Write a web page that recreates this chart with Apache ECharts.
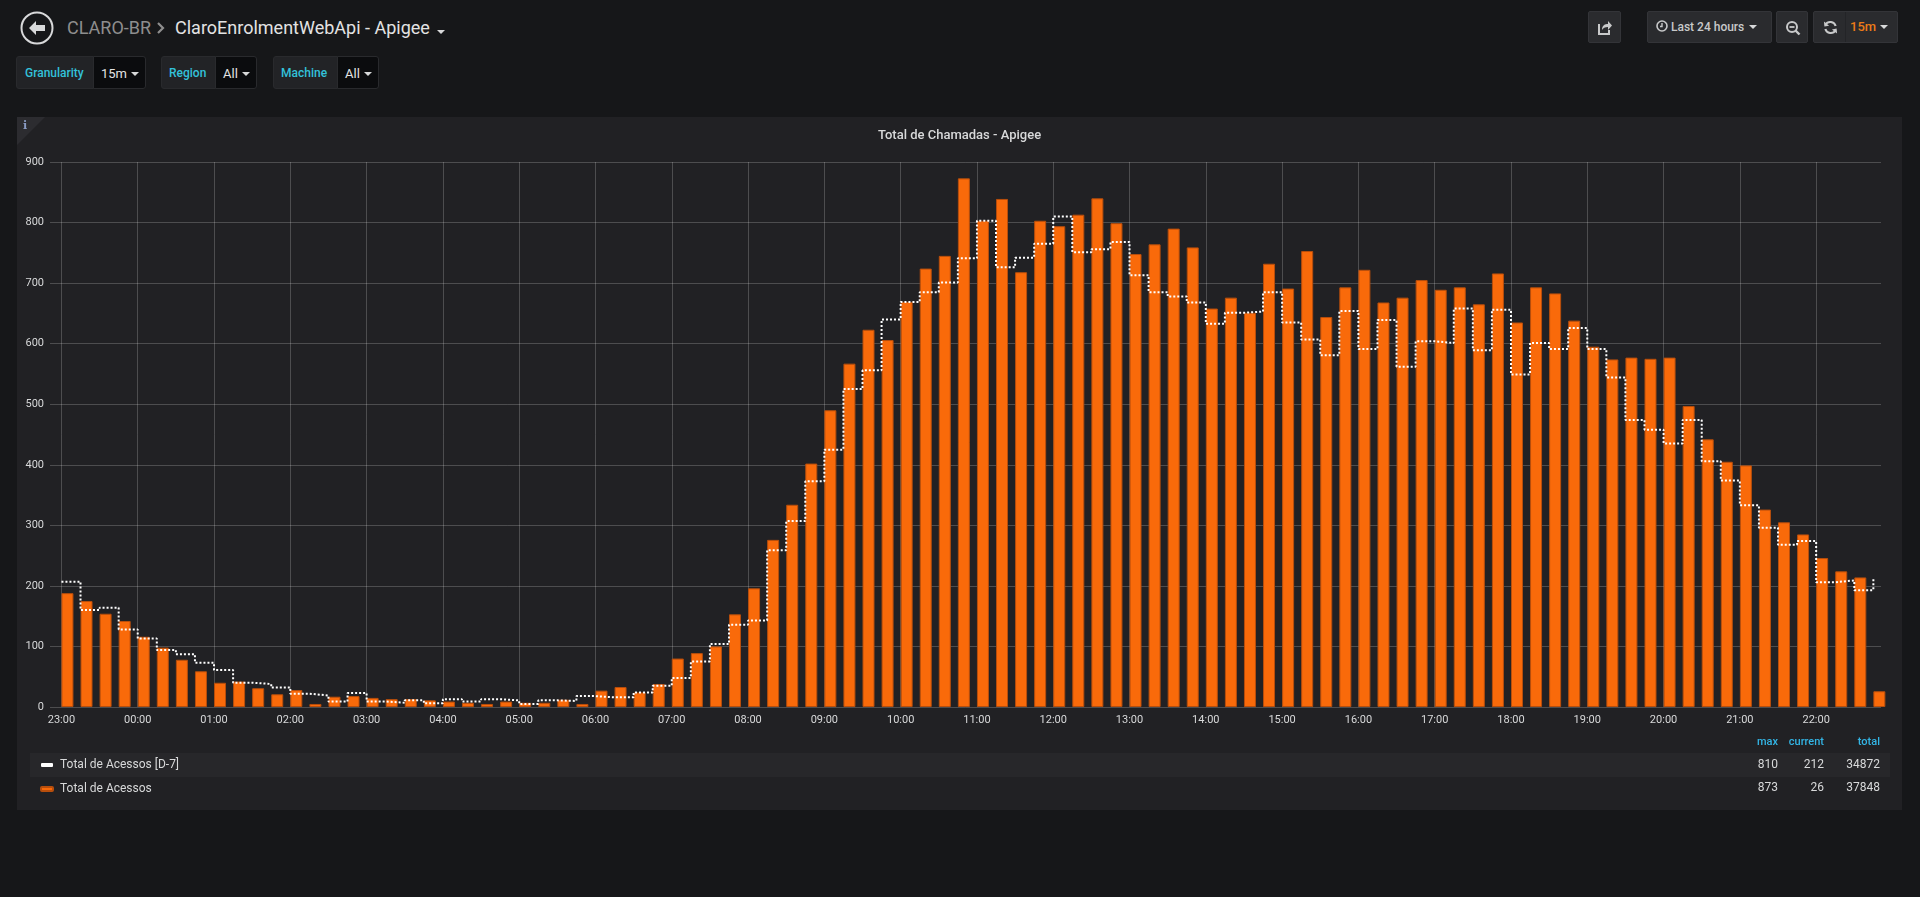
<!DOCTYPE html>
<html>
<head>
<meta charset="utf-8">
<title>ClaroEnrolmentWebApi - Apigee</title>
<script src="https://cdn.jsdelivr.net/npm/echarts@6/dist/echarts.min.js"></script>
<style>
  html, body { margin: 0; padding: 0; background: #161719; width: 1920px; height: 897px; overflow: hidden; font-family: Roboto, "Noto Sans", sans-serif; }
  .abs { position: absolute; }
  .crumb { top: 16px; font-size: 18px; line-height: 24px; white-space: nowrap; }
  .var-label { top: 56px; height: 33px; line-height: 33px; background: #222326; border: 1px solid #292a2d; box-sizing: border-box; color: #33c1da; font-size: 12px; font-weight: 500; padding-left: 8px; border-radius: 3px 0 0 3px; }
  .var-value { top: 56px; height: 33px; line-height: 33px; background: #0b0c0e; border: 1px solid #292a2d; box-sizing: border-box; color: #e3e3e3; font-size: 13px; padding-left: 7px; border-radius: 0 3px 3px 0; }
  .caret { display: inline-block; width: 0; height: 0; border-left: 4px solid transparent; border-right: 4px solid transparent; border-top: 4px solid #d8d9da; vertical-align: middle; margin-left: 4px; margin-top: -2px; }
  .btn { top: 11px; height: 32px; background: #2a2b2e; border: 1px solid #333438; box-sizing: border-box; border-radius: 2px; color: #c8c9ca; font-size: 12px; font-weight: 500; line-height: 30px; }
  #panel { left: 17px; top: 117px; width: 1885px; height: 693px; background: #212124; }
  #chart { position: absolute; left: 0; top: 0; width: 1885px; height: 693px; }
  #corner { position: absolute; left: 0; top: 0; width: 0; height: 0; border-top: 28px solid #2c2c30; border-right: 28px solid transparent; }
  #corner-i { position: absolute; left: 6px; top: 2px; color: #8a9cc4; font: bold 11px "DejaVu Serif", serif; }
</style>
</head>
<body>

<!-- top navigation -->
<svg class="abs" style="left:20px;top:11px" width="34" height="34" viewBox="0 0 34 34">
  <circle cx="17" cy="17" r="15.5" fill="none" stroke="#d8d9da" stroke-width="2"/>
  <path d="M9 17 L16 10 L16 14 L25 14 L25 20 L16 20 L16 24 Z" fill="#d8d9da"/>
</svg>
<div class="abs crumb" style="left:67px;color:#8e8e8e">CLARO-BR</div>
<svg class="abs" style="left:156px;top:22px" width="10" height="12" viewBox="0 0 10 12">
  <path d="M2 1 L7 6 L2 11" fill="none" stroke="#8e8e8e" stroke-width="2.2"/>
</svg>
<div class="abs crumb" style="left:175px;color:#e3e3e3">ClaroEnrolmentWebApi - Apigee</div>
<div class="abs" style="left:437px;top:30px;width:0;height:0;border-left:4px solid transparent;border-right:4px solid transparent;border-top:4px solid #d8d9da"></div>

<!-- template variables -->
<div class="abs var-label" style="left:16px;width:78px">Granularity</div>
<div class="abs var-value" style="left:93px;width:53px">15m<span class="caret"></span></div>
<div class="abs var-label" style="left:161px;width:55px;padding-left:7px">Region</div>
<div class="abs var-value" style="left:215px;width:42px">All<span class="caret"></span></div>
<div class="abs var-label" style="left:273px;width:65px;padding-left:7px">Machine</div>
<div class="abs var-value" style="left:337px;width:42px">All<span class="caret"></span></div>

<!-- right-hand buttons -->
<div class="abs btn" style="left:1588px;width:33px">
  <svg style="position:absolute;left:8px;top:7px" width="16" height="16" viewBox="0 0 16 16">
    <path d="M2 5 L2 15 L12 15 L12 11" fill="none" stroke="#c8c9ca" stroke-width="2"/>
    <path d="M5 11 C5 6 8 5 11 5 L11 2 L15 6.5 L11 11 L11 8 C8 8 6 9 5 11 Z" fill="#c8c9ca"/>
  </svg>
</div>
<div class="abs btn" style="left:1647px;width:125px;padding-left:8px">
  <svg style="vertical-align:middle;margin-top:-3px" width="12" height="12" viewBox="0 0 12 12">
    <circle cx="6" cy="6" r="5" fill="none" stroke="#c8c9ca" stroke-width="1.6"/>
    <path d="M6 3 L6 6.5 L4 6.5" fill="none" stroke="#c8c9ca" stroke-width="1.4"/>
  </svg>
  Last 24 hours<span class="caret" style="margin-left:5px"></span>
</div>
<div class="abs btn" style="left:1776px;width:32px">
  <svg style="position:absolute;left:8px;top:8px" width="16" height="16" viewBox="0 0 16 16">
    <circle cx="7" cy="7" r="5" fill="none" stroke="#c8c9ca" stroke-width="2"/>
    <path d="M4.5 7 L9.5 7" stroke="#c8c9ca" stroke-width="1.8"/>
    <path d="M10.5 10.5 L14.5 14.5" stroke="#c8c9ca" stroke-width="2.4"/>
  </svg>
</div>
<div class="abs btn" style="left:1813px;width:85px">
  <svg style="position:absolute;left:9px;top:8px" width="15" height="15" viewBox="0 0 16 16">
    <path d="M13.5 6.5 A6 6 0 0 0 2.6 5" fill="none" stroke="#c8c9ca" stroke-width="2.2"/>
    <path d="M1 1.5 L1.5 7 L6.5 6 Z" fill="#c8c9ca"/>
    <path d="M2.5 9.5 A6 6 0 0 0 13.4 11" fill="none" stroke="#c8c9ca" stroke-width="2.2"/>
    <path d="M15 14.5 L14.5 9 L9.5 10 Z" fill="#c8c9ca"/>
  </svg>
  <div style="position:absolute;left:31px;top:0;width:1px;height:30px;background:#232427"></div>
  <span style="position:absolute;left:36px;color:#eb7b18;font-size:13px;font-weight:500">15m<span class="caret"></span></span>
</div>

<!-- graph panel -->
<div id="panel" class="abs">
  <div id="chart"></div>
  <div id="corner"></div>
  <div id="corner-i">i</div>
</div>

<script>
// 15 minute buckets, first bucket at 23:00
const slotMinutes = 15;
const hourLabels = ['23:00','00:00','01:00','02:00','03:00','04:00','05:00','06:00','07:00','08:00','09:00','10:00',
  '11:00','12:00','13:00','14:00','15:00','16:00','17:00','18:00','19:00','20:00','21:00','22:00'];
const hourTicks = hourLabels.map((_, k) => k * 60);

// Total de Acessos (bars)
const acessos = [188,175,154,142,116,98,78,59,40,42,31,21,28,5,17,18,15,13,13,11,9,7,5,9,
  7,7,12,5,27,33,24,38,80,89,100,153,196,276,334,402,490,567,623,606,669,724,745,873,
  803,839,718,803,794,813,840,799,748,764,790,759,658,676,651,732,691,753,644,693,722,668,676,705,
  689,693,665,716,635,693,683,638,595,574,577,575,577,497,442,405,399,326,305,285,246,224,214,26];

// Total de Acessos [D-7] (dotted step line)
const acessosD7 = [207,160,164,128,113,94,87,73,61,40,38,32,22,19,9,23,9,7,11,6,13,9,13,11,
  5,11,10,18,16,16,24,35,48,75,104,136,143,259,307,373,425,525,556,640,669,685,701,741,
  803,726,742,765,810,751,756,768,713,685,678,668,633,651,653,685,635,607,581,654,591,639,562,604,
  601,658,589,656,549,601,591,626,591,544,474,458,435,474,406,374,333,296,268,274,206,209,193,212];

// legend table (max / current / total)
const statHeaders = ['max', 'current', 'total'];
const statsD7 = ['810', '212', '34872'];
const statsNow = ['873', '26', '37848'];

const chart = echarts.init(document.getElementById('chart'));

const textColor = '#d8d9da';
const gridColor = 'rgba(255,255,255,0.2)';
const statX = [1761, 1807, 1863];

const graphic = [
  { type: 'rect', shape: { x: 13, y: 636, width: 1860, height: 24 }, style: { fill: '#27272a' }, z: -10, silent: true }
];
statHeaders.forEach((h, k) => {
  graphic.push({ type: 'text', x: statX[k], y: 625, style: { text: h, fill: '#33b5e5', font: '500 11px Roboto', align: 'right', verticalAlign: 'middle' } });
  graphic.push({ type: 'text', x: statX[k], y: 648, style: { text: statsD7[k], fill: textColor, font: '12px Roboto', align: 'right', verticalAlign: 'middle' } });
  graphic.push({ type: 'text', x: statX[k], y: 671, style: { text: statsNow[k], fill: textColor, font: '12px Roboto', align: 'right', verticalAlign: 'middle' } });
});

chart.setOption({
  animation: false,
  backgroundColor: 'transparent',
  textStyle: { fontFamily: 'Roboto' },
  title: {
    text: 'Total de Chamadas - Apigee',
    left: 'center', top: 7,
    textStyle: { color: textColor, fontSize: 13, fontWeight: 500, fontFamily: 'Roboto' }
  },
  grid: { left: 33, right: 21, top: 45, bottom: 103, containLabel: false },
  legend: {
    orient: 'vertical', left: 23, top: 642, itemGap: 12, padding: 0,
    itemWidth: 12, itemHeight: 4, icon: 'roundRect', selectedMode: false,
    textStyle: { color: textColor, fontSize: 12, fontFamily: 'Roboto', padding: [0, 0, 0, 2] },
    data: [
      { name: 'Total de Acessos [D-7]', itemStyle: { color: '#ffffff' } },
      { name: 'Total de Acessos', itemStyle: { color: '#f96a0a' } }
    ]
  },
  xAxis: {
    type: 'value', min: -9, max: 1431,
    axisLine: { show: false },
    axisTick: { show: false, customValues: hourTicks },
    axisLabel: {
      customValues: hourTicks,
      formatter: v => hourLabels[Math.round(v / 60)],
      color: textColor, fontSize: 11, margin: 8
    },
    splitLine: { show: true, lineStyle: { color: gridColor, width: 1 } }
  },
  yAxis: {
    type: 'value', min: 0, max: 900, interval: 100,
    axisLine: { show: false },
    axisTick: { show: false },
    axisLabel: { color: textColor, fontSize: 11, margin: 6 },
    splitLine: { show: true, lineStyle: { color: gridColor, width: 1 } }
  },
  graphic: graphic,
  series: [
    // empty companion so each bar starts at its bucket time
    { type: 'bar', name: 'pad', data: [], barWidth: 12, barGap: '0%' },
    {
      type: 'bar', name: 'Total de Acessos',
      data: acessos.map((v, i) => [i * slotMinutes, v]),
      barWidth: 12, barGap: '0%',
      itemStyle: { color: '#f96a0a', borderColor: '#b84e0c', borderWidth: 1 }
    },
    {
      type: 'line', name: 'Total de Acessos [D-7]',
      data: acessosD7.map((v, i) => [i * slotMinutes, v]),
      step: 'end', showSymbol: false, z: 5,
      itemStyle: { color: '#ffffff' },
      lineStyle: { color: '#ffffff', width: 2, type: [2, 2] }
    }
  ]
});
</script>
</body>
</html>
